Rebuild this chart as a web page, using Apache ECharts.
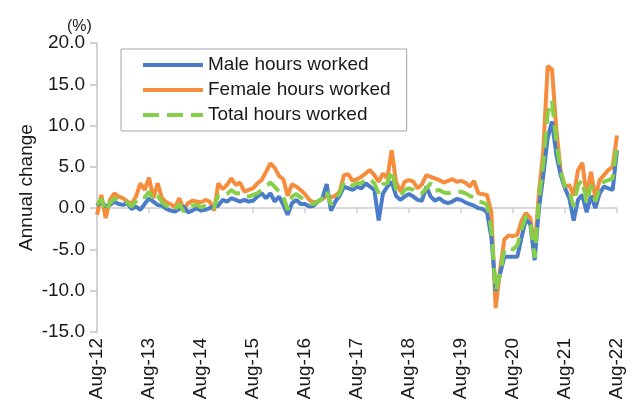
<!DOCTYPE html>
<html>
<head>
<meta charset="utf-8">
<script src="https://cdn.jsdelivr.net/npm/echarts@6/dist/echarts.min.js"></script>
<style>
  html, body { margin: 0; padding: 0; background: #fff; }
  #hours_chart { width: 632px; height: 405px; }
</style>
</head>
<body>
<div id="hours_chart"></div>
<script>
// months Aug-12 .. Aug-22
var monthNames = ['Jan', 'Feb', 'Mar', 'Apr', 'May', 'Jun', 'Jul', 'Aug', 'Sep', 'Oct', 'Nov', 'Dec']
var months = []
for (var i = 0; i < 121; i++) {
  var m = (7 + i) % 12
  var y = 12 + Math.floor((7 + i) / 12)
  months.push(monthNames[m] + '-' + y)
}

var maleHours = [
  0.3, 0.8, 0.2, 0.4, 0.8, 0.5, 0.4, 0.6, -0.1, 0.2, -0.2, 0.5,
  1.2, 0.8, 0.4, 0.3, -0.1, -0.3, -0.4, -0.1, 0.2, -0.5, -0.3, 0.0,
  -0.3, -0.2, 0.0, 0.2, 0.3, 1.0, 0.8, 1.2, 1.0, 0.8, 1.0, 0.8,
  0.9, 1.4, 1.8, 1.2, 1.8, 0.8, 1.4, 0.4, -0.8, 0.6, 1.0, 0.5,
  0.5, 0.2, 0.3, 0.8, 1.2, 2.9, -0.3, 0.8, 1.5, 2.6, 2.4, 2.2,
  2.6, 2.4, 3.0, 2.6, 2.2, -1.5, 1.8, 2.6, 3.2, 1.5, 1.0, 1.4,
  1.7, 1.4, 1.0, 0.9, 2.6, 1.4, 0.9, 1.2, 0.8, 0.6, 0.8, 1.1,
  1.0, 0.7, 0.5, 0.3, 0.0, -0.1, -0.5, -3.5, -10.0, -8.0, -5.9, -5.9,
  -5.9, -5.9, -3.5, -1.3, -2.0, -6.3, 0.0, 4.0, 8.5, 10.5, 6.5, 4.0,
  2.4, 1.2, -1.5, 1.0, 1.6, -0.5, 1.5, 0.0, 1.8, 2.6, 2.4, 2.2,
  7.0
]
var femaleHours = [
  -0.8, 1.6, -1.2, 1.0, 1.8, 1.4, 1.2, 0.8, 0.5, 1.4, 3.0, 2.2,
  3.7, 1.2, 3.0, 1.2, 0.7, 0.5, 0.1, 1.2, -0.1, 0.6, 0.9, 0.8,
  0.7, 1.0, 0.8, -0.3, 3.0, 2.3, 2.8, 3.6, 2.8, 3.1, 2.0, 2.2,
  2.4, 3.0, 3.4, 4.4, 5.4, 4.9, 3.9, 3.5, 1.5, 2.9, 2.6, 2.2,
  1.7, 1.0, 0.7, 0.8, 1.1, 1.5, 1.3, 1.5, 2.0, 4.0, 4.1, 3.3,
  3.5, 3.8, 4.2, 4.6, 4.0, 3.2, 4.2, 3.6, 7.0, 3.2, 2.0, 3.2,
  3.4, 3.2, 2.4, 2.9, 4.0, 3.8, 3.6, 3.4, 3.1, 3.3, 3.5, 3.2,
  3.3, 3.1, 2.6, 3.3, 1.8, 1.7, 1.6, -0.5, -12.1, -7.5, -3.8, -3.3,
  -3.4, -3.2, -1.5, -0.6, -1.2, -5.0, 2.0, 7.0, 17.2, 16.8, 9.5, 4.5,
  2.6, 2.8, 1.5, 4.6, 5.5, 1.4, 4.4, 1.2, 3.4, 4.0, 4.6, 5.0,
  8.8
]
var totalHours = [
  0.4, 1.1, -0.4, 0.6, 1.2, 0.9, 0.8, 0.7, 0.2, 0.8, 1.4, 1.3,
  2.0, 1.0, 1.5, 0.7, 0.3, 0.1, -0.2, 0.5, -0.4, 0.0, 0.3, 0.4,
  0.1, 0.3, 0.4, 0.0, 1.6, 1.5, 1.7, 2.2, 1.8, 1.8, 1.4, 1.4,
  1.6, 1.8, 2.2, 2.6, 3.1, 2.6, 2.0, 1.4, -0.2, 1.4, 1.7, 1.3,
  1.0, 0.6, 0.5, 0.8, 1.2, 2.1, 0.4, 1.1, 1.8, 3.2, 3.1, 2.7,
  3.0, 3.0, 3.5, 3.5, 3.0, 1.8, 2.9, 3.0, 4.6, 2.3, 1.5, 2.2,
  2.4, 2.2, 1.7, 1.8, 2.4, 3.0, 2.1, 2.2, 1.9, 1.8, 2.0, 2.0,
  2.0, 1.8, 1.5, 1.3, 0.8, 0.7, 0.4, -2.5, -10.0, -8.0, -5.0, -4.8,
  -5.0, -4.5, -2.5, -1.0, -1.6, -6.0, 1.0, 5.5, 11.5, 13.0, 8.0, 4.5,
  2.6, 2.0, 0.2, 2.8, 3.4, 0.6, 2.8, 0.8, 2.4, 3.2, 3.4, 3.6,
  7.8
]

var FONT = "'Liberation Sans', Arial, sans-serif"
var everyYear = function (idx) { return idx % 12 === 0 }

var hours_chart = echarts.init(document.getElementById('hours_chart'))
option = {
  animation: false,
  textStyle: { fontFamily: FONT },
  title: {
    text: '(%)',
    left: 62,
    top: 14,
    textStyle: { fontSize: 16, fontWeight: 'normal', color: '#1a1a1a', fontFamily: FONT },
  },
  legend: {
    orient: 'vertical',
    left: 121,
    top: 49,
    padding: [6, 16, 6, 20],
    itemWidth: 60,
    itemHeight: 14,
    itemGap: 5,
    itemTextGap: 6,
    borderColor: '#a6a6a6',
    borderWidth: 1,
    backgroundColor: '#fff',
    itemStyle: { opacity: 0 },
    lineStyle: { width: 4 },
    textStyle: { fontSize: 19, lineHeight: 20, color: '#1a1a1a', fontFamily: FONT },
    data: ['Male hours worked', 'Female hours worked', 'Total hours worked'],
  },
  grid: { left: 97, right: 15, top: 43, bottom: 73 },
  xAxis: [
    {
      type: 'category',
      data: months,
      boundaryGap: false,
      axisLine: { show: false, onZero: false },
      axisTick: { show: false },
      axisLabel: {
        interval: everyYear,
        rotate: 90,
        margin: 6,
        fontSize: 19,
        color: '#1a1a1a',
        fontFamily: FONT,
      },
    },
    {
      type: 'category',
      data: months,
      position: 'bottom',
      boundaryGap: false,
      axisLine: { onZero: true, lineStyle: { color: '#d0d0d0', width: 1.5 } },
      axisTick: { interval: everyYear, length: 5, lineStyle: { color: '#d0d0d0', width: 1.5 } },
      axisLabel: { show: false },
    },
  ],
  yAxis: {
    type: 'value',
    min: -15,
    max: 20,
    interval: 5,
    name: 'Annual change',
    nameLocation: 'middle',
    nameGap: 61,
    nameMoveOverlap: false,
    nameTextStyle: { fontSize: 19, color: '#1a1a1a', fontFamily: FONT },
    splitLine: { show: false },
    axisLine: { show: true, lineStyle: { color: '#c4c4c4', width: 1.5 } },
    axisTick: { show: true, length: 7, lineStyle: { color: '#c4c4c4', width: 1.5 } },
    axisLabel: {
      margin: 12,
      fontSize: 19,
      color: '#1a1a1a',
      fontFamily: FONT,
      formatter: function (v) { return v.toFixed(1) },
    },
  },
  series: [
    {
      name: 'Male hours worked',
      type: 'line',
      data: maleHours,
      symbol: 'none',
      z: 3,
      lineStyle: { width: 4, color: '#4a7cc9' },
      itemStyle: { color: '#4a7cc9' },
    },
    {
      name: 'Female hours worked',
      type: 'line',
      data: femaleHours,
      symbol: 'none',
      z: 2,
      lineStyle: { width: 4, color: '#f58d3c' },
      itemStyle: { color: '#f58d3c' },
    },
    {
      name: 'Total hours worked',
      type: 'line',
      data: totalHours,
      symbol: 'none',
      z: 4,
      lineStyle: { width: 4, color: '#86cf48', type: [16, 8] },
      itemStyle: { color: '#86cf48' },
    },
  ],
}
hours_chart.setOption(option)
</script>
</body>
</html>
